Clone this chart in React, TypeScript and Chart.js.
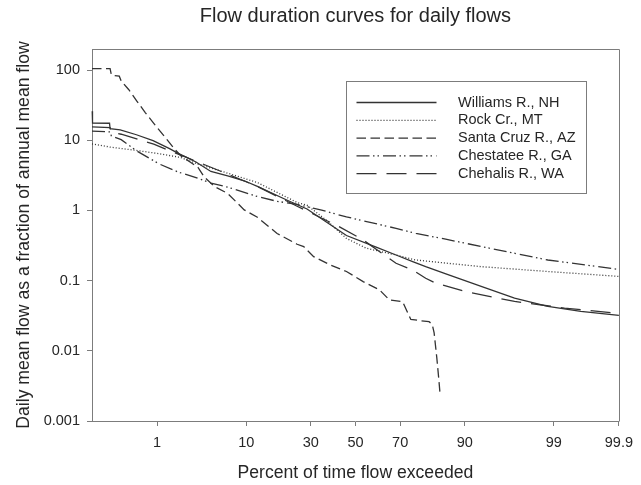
import React, { useEffect, useRef } from 'react';
import { Chart, registerables, LinearScale } from 'chart.js';

Chart.register(...registerables);

// ---------- texts ----------
const TITLE = 'Flow duration curves for daily flows';
const X_TITLE = 'Percent of time flow exceeded';
const Y_TITLE = 'Daily mean flow as a fraction of annual mean flow';

// ---------- axes ----------
const X_TICKS = [1, 10, 30, 50, 70, 90, 99, 99.9];
const X_MIN = 0.1;
const X_MAX = 99.9;
const Y_TICKS = [0.001, 0.01, 0.1, 1, 10, 100];
const Y_MIN = 0.001;
const Y_MAX = 200;

// ---------- series (percent of time exceeded, flow ratio) ----------
const SERIES_NAMES = ['Williams R., NH', 'Rock Cr., MT', 'Santa Cruz R., AZ', 'Chestatee R., GA', 'Chehalis R., WA'];

const WILLIAMS_P = [0.1, 0.102, 0.196, 0.2, 0.29, 0.51, 0.88, 1.46, 1.88, 2.35, 3.07, 4.5, 6.7, 9.6, 12.5, 21.2, 28.5, 36.8, 45.8, 59.6, 68.3, 74.9, 79.5, 86.3, 93.1, 96.9, 98.8, 99.59, 99.9];
const WILLIAMS_Q = [26, 17.6, 17.5, 14.6, 14.1, 12, 9.9, 7.6, 6.5, 5.75, 4.9, 3.6, 3.1, 2.65, 2.2, 1.4, 1.05, 0.68, 0.44, 0.3, 0.232, 0.187, 0.158, 0.121, 0.082, 0.0565, 0.043, 0.0365, 0.032];

const ROCK_P = [0.1, 0.2, 0.5, 1.0, 2.0, 3.2, 6.7, 12.5, 24.7, 28.5, 36.8, 45.8, 55, 68.3, 76.1, 85.5, 93.1, 98.8, 99.9];
const ROCK_Q = [8.9, 8.0, 7.2, 6.5, 5.7, 4.6, 3.4, 2.5, 1.3, 1.19, 0.72, 0.4, 0.29, 0.232, 0.197, 0.178, 0.158, 0.135, 0.115];

const SANTACRUZ_P = [0.1, 0.2, 0.21, 0.28, 0.3, 0.39, 0.52, 0.68, 0.94, 1.28, 1.71, 2.07, 2.7, 3.24, 3.8, 4.9, 6.7, 9.6, 12.5, 17.9, 24.7, 27.2, 31.2, 38.3, 45.8, 53.6, 61.1, 65.5, 71.0, 74.2, 80.6, 81.6, 82.2, 83.0, 83.6, 83.9];
const SANTACRUZ_Q = [105, 105, 85, 82, 70, 53, 36, 25, 16.5, 11, 7.4, 5.9, 4.8, 4.1, 3.0, 2.2, 1.75, 1.02, 0.8, 0.47, 0.33, 0.305, 0.22, 0.168, 0.135, 0.097, 0.074, 0.053, 0.05, 0.028, 0.026, 0.024, 0.018, 0.008, 0.0039, 0.0026];

const CHESTATEE_P = [0.1, 0.2, 0.21, 0.3, 0.52, 1.07, 1.88, 3.2, 4.5, 6.7, 12.5, 17.9, 24.7, 34.6, 45.8, 68.3, 76.1, 85.5, 93.1, 98.8, 99.89];
const CHESTATEE_Q = [13.5, 13.2, 11.5, 10.2, 7.0, 4.6, 3.53, 2.9, 2.45, 2.15, 1.58, 1.35, 1.22, 1.01, 0.81, 0.556, 0.47, 0.39, 0.305, 0.197, 0.146];

const CHEHALIS_P = [0.1, 0.2, 0.21, 0.3, 0.5, 0.9, 1.5, 2.3, 6.7, 12.5, 24.7, 42.8, 53.6, 68.3, 74.9, 79.5, 82.7, 90.1, 96.9, 99.29, 99.88];
const CHEHALIS_Q = [15.5, 15.2, 13.0, 12.2, 10.6, 8.8, 7.0, 5.8, 3.3, 2.2, 1.15, 0.58, 0.38, 0.177, 0.142, 0.108, 0.092, 0.07, 0.0505, 0.0407, 0.0347];

// ---------- styles ----------
const FONT = '"Liberation Sans", Arial, Helvetica, sans-serif';
const TEXT = '#262626';
const AXIS = '#7c7c7c';
const LINE = '#333333';
const DASHES: number[][] = [[], [1, 2], [9.5, 4.5], [13, 3.5, 1.5, 3, 1.5, 4], [20, 10]];

// ---------- normal probability helpers ----------
function qnorm(p: number): number {
  const a = [-3.969683028665376e1, 2.209460984245205e2, -2.759285104469687e2, 1.38357751867269e2, -3.066479806614716e1, 2.506628277459239];
  const b = [-5.447609879822406e1, 1.615858368580409e2, -1.556989798598866e2, 6.680131188771972e1, -1.328068155288572e1];
  const c = [-7.784894002430293e-3, -3.223964580411365e-1, -2.400758277161838, -2.549671348494377, 4.374664141464968, 2.938163982698783];
  const d = [7.784695709041462e-3, 3.224671290700398e-1, 2.445134137142996, 3.754408661907416];
  const pl = 0.02425;
  if (p < pl) {
    const q = Math.sqrt(-2 * Math.log(p));
    return (((((c[0] * q + c[1]) * q + c[2]) * q + c[3]) * q + c[4]) * q + c[5]) / ((((d[0] * q + d[1]) * q + d[2]) * q + d[3]) * q + 1);
  }
  if (p <= 1 - pl) {
    const q = p - 0.5;
    const r = q * q;
    return ((((((a[0] * r + a[1]) * r + a[2]) * r + a[3]) * r + a[4]) * r + a[5]) * q) / (((((b[0] * r + b[1]) * r + b[2]) * r + b[3]) * r + b[4]) * r + 1);
  }
  const q = Math.sqrt(-2 * Math.log(1 - p));
  return -(((((c[0] * q + c[1]) * q + c[2]) * q + c[3]) * q + c[4]) * q + c[5]) / ((((d[0] * q + d[1]) * q + d[2]) * q + d[3]) * q + 1);
}

function pnorm(z: number): number {
  const t = 1 / (1 + 0.2316419 * Math.abs(z));
  const dd = 0.3989423 * Math.exp((-z * z) / 2);
  const prob = dd * t * (0.3193815 + t * (-0.3565638 + t * (1.781478 + t * (-1.821256 + t * 1.330274))));
  return z > 0 ? 1 - prob : prob;
}

class ProbabilityScale extends (LinearScale as any) {
  static id = 'probability';
  determineDataLimits() {
    this.min = X_MIN;
    this.max = X_MAX;
  }
  buildTicks() {
    return X_TICKS.map((v) => ({ value: v }));
  }
  getPixelForValue(value: number) {
    const a = qnorm(this.min / 100);
    const b = qnorm(this.max / 100);
    return this.getPixelForDecimal((qnorm(value / 100) - a) / (b - a));
  }
  getValueForPixel(pixel: number) {
    const a = qnorm(this.min / 100);
    const b = qnorm(this.max / 100);
    const dec = this.getDecimalForPixel(pixel);
    return 100 * pnorm(a + dec * (b - a));
  }
}
Chart.register(ProbabilityScale as any);

function toPoints(ps: number[], qs: number[]) {
  return ps.map((p, i) => ({ x: p, y: qs[i] }));
}

const titlePlugin = {
  id: 'centredTitle',
  afterDraw(chart: any) {
    const { ctx, chartArea } = chart;
    ctx.save();
    ctx.font = `20px ${FONT}`;
    ctx.fillStyle = TEXT;
    ctx.textAlign = 'center';
    ctx.textBaseline = 'middle';
    ctx.fillText(TITLE, (chartArea.left + chartArea.right) / 2, 16);
    ctx.restore();
  },
};

const frameLegendPlugin = {
  id: 'frameLegend',
  afterDatasetsDraw(chart: any) {
    const { ctx, chartArea: ca } = chart;
    ctx.save();
    ctx.strokeStyle = AXIS;
    ctx.lineWidth = 1;
    ctx.setLineDash([]);
    const top = Math.round(ca.top) + 0.5;
    const right = Math.round(ca.right) + 0.5;
    const bottom = Math.round(ca.bottom) + 0.5;
    ctx.beginPath();
    ctx.moveTo(Math.round(ca.left) + 0.5, top);
    ctx.lineTo(right, top);
    ctx.lineTo(right, bottom);
    ctx.stroke();

    // legend box
    const bx = Math.round(ca.right - 273) + 0.5;
    const by = Math.round(ca.top + 32) + 0.5;
    const bw = 240;
    const bh = 112;
    ctx.fillStyle = '#ffffff';
    ctx.fillRect(bx, by, bw, bh);
    ctx.strokeRect(bx, by, bw, bh);

    ctx.font = `14.5px ${FONT}`;
    ctx.textBaseline = 'middle';
    ctx.textAlign = 'left';
    chart.data.datasets.forEach((ds: any, i: number) => {
      const y = by + 21 + i * 17.8;
      ctx.strokeStyle = ds.borderColor;
      ctx.lineWidth = ds.borderWidth;
      ctx.setLineDash(ds.borderDash || []);
      ctx.beginPath();
      ctx.moveTo(bx + 10, y);
      ctx.lineTo(bx + 90, y);
      ctx.stroke();
      ctx.setLineDash([]);
      ctx.fillStyle = TEXT;
      ctx.fillText(ds.label, bx + 111.5, y);
    });
    ctx.restore();
  },
};

export default function App() {
  const canvasRef = useRef<HTMLCanvasElement | null>(null);

  useEffect(() => {
    if (!canvasRef.current) return;
    const seriesData = [
      toPoints(WILLIAMS_P, WILLIAMS_Q),
      toPoints(ROCK_P, ROCK_Q),
      toPoints(SANTACRUZ_P, SANTACRUZ_Q),
      toPoints(CHESTATEE_P, CHESTATEE_Q),
      toPoints(CHEHALIS_P, CHEHALIS_Q),
    ];
    const chart = new Chart(canvasRef.current, {
      type: 'line',
      data: {
        datasets: seriesData.map((d, i) => ({
          label: SERIES_NAMES[i],
          data: d,
          borderColor: LINE,
          borderWidth: 1.3,
          borderDash: DASHES[i],
          pointRadius: 0,
          tension: 0,
          fill: false,
        })),
      },
      options: {
        responsive: false,
        animation: false,
        events: [],
        layout: { padding: { left: 0, right: 16, top: 49, bottom: 0 } },
        plugins: {
          legend: { display: false },
          tooltip: { enabled: false },
          title: { display: false },
        },
        scales: {
          x: {
            type: 'probability' as any,
            position: 'bottom',
            afterFit: (s: any) => {
              s.height = 64;
            },
            grid: { drawOnChartArea: false, drawTicks: true, tickLength: 5, color: AXIS, lineWidth: 1 },
            border: { display: true, color: AXIS, width: 1 },
            ticks: {
              autoSkip: false,
              maxRotation: 0,
              padding: 8,
              color: TEXT,
              font: { family: FONT, size: 14.5 },
              callback: (v: any) => String(v),
            },
            title: {
              display: true,
              text: X_TITLE,
              color: TEXT,
              font: { family: FONT, size: 17.6 },
              padding: { top: 0, bottom: 1 },
            },
          } as any,
          y: {
            type: 'logarithmic',
            min: Y_MIN,
            max: Y_MAX,
            afterFit: (s: any) => {
              s.width = 92;
            },
            afterBuildTicks: (s: any) => {
              s.ticks = Y_TICKS.map((v) => ({ value: v }));
            },
            grid: { drawOnChartArea: false, drawTicks: true, tickLength: 5, color: AXIS, lineWidth: 1 },
            border: { display: true, color: AXIS, width: 1 },
            ticks: {
              autoSkip: false,
              padding: 7,
              color: TEXT,
              font: { family: FONT, size: 14.5 },
              callback: (v: any) => String(v),
            },
            title: {
              display: true,
              text: Y_TITLE,
              color: TEXT,
              font: { family: FONT, size: 17.6 },
              padding: { top: 14, bottom: 0 },
            },
          },
        },
      },
      plugins: [titlePlugin, frameLegendPlugin],
    });
    return () => chart.destroy();
  }, []);

  return (
    <div style={{ position: 'absolute', left: 0, top: 0, width: 641, height: 485, background: '#fff' }}>
      <canvas ref={canvasRef} width={641} height={485} style={{ display: 'block' }} />
    </div>
  );
}
